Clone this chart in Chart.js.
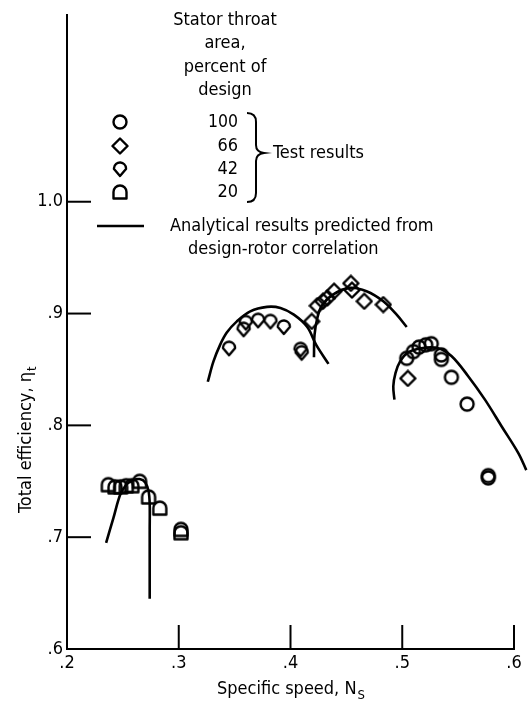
<!DOCTYPE html>
<html lang="en">
<head>
<meta charset="UTF-8">
<title>Total efficiency vs specific speed</title>
<script src="https://cdn.jsdelivr.net/npm/chart.js@4.4.1/dist/chart.umd.min.js"></script>
<style>
  html, body { margin: 0; padding: 0; background: #fff; }
</style>
</head>
<body>
<canvas id="effChart" width="531" height="704"></canvas>
<script>
const xTicks = [0.2, 0.3, 0.4, 0.5, 0.6];
const yTicks = [0.6, 0.7, 0.8, 0.9, 1.0];
const areaPercent = ['100', '66', '42', '20'];

// test results (stator throat area, percent of design)
const test100X = [0.504, 0.510, 0.515, 0.521, 0.526, 0.535, 0.535, 0.544, 0.558, 0.577, 0.577];
const test100Y = [0.860, 0.866, 0.870, 0.872, 0.873, 0.863, 0.859, 0.843, 0.819, 0.755, 0.753];
const test66X = [0.419, 0.424, 0.429, 0.433, 0.439, 0.454, 0.455, 0.466, 0.483, 0.505];
const test66Y = [0.893, 0.907, 0.911, 0.914, 0.920, 0.927, 0.921, 0.911, 0.908, 0.842];
const test42X = [0.345, 0.358, 0.360, 0.371, 0.382, 0.394, 0.409, 0.410];
const test42Y = [0.869, 0.886, 0.892, 0.894, 0.893, 0.888, 0.868, 0.865];
const test20X = [0.237, 0.243, 0.248, 0.253, 0.258, 0.265, 0.273, 0.283, 0.302, 0.302];
const test20Y = [0.747, 0.745, 0.745, 0.746, 0.746, 0.750, 0.736, 0.726, 0.707, 0.704];

// analytical results predicted from design-rotor correlation
const curve100X = [0.493, 0.492, 0.494, 0.498, 0.505, 0.517, 0.532, 0.544, 0.559, 0.574, 0.589, 0.604, 0.611];
const curve100Y = [0.823, 0.835, 0.847, 0.857, 0.865, 0.869, 0.869, 0.862, 0.844, 0.823, 0.799, 0.775, 0.760];
const curve66X = [0.421, 0.4215, 0.424, 0.428, 0.438, 0.453, 0.468, 0.483, 0.495, 0.504];
const curve66Y = [0.861, 0.881, 0.896, 0.907, 0.917, 0.923, 0.920, 0.911, 0.899, 0.888];
const curve42X = [0.326, 0.331, 0.337, 0.343, 0.352, 0.364, 0.379, 0.391, 0.403, 0.415, 0.423, 0.434];
const curve42Y = [0.839, 0.857, 0.872, 0.883, 0.893, 0.902, 0.906, 0.905, 0.899, 0.888, 0.872, 0.855];
const curve20X = [0.235, 0.2415, 0.248, 0.254, 0.259, 0.265, 0.270, 0.273, 0.274, 0.274, 0.274];
const curve20Y = [0.695, 0.717, 0.739, 0.748, 0.751, 0.752, 0.749, 0.741, 0.729, 0.707, 0.645];

const FONT = '"DejaVu Sans Condensed", "DejaVu Sans", sans-serif';

function pts(xs, ys) {
  return xs.map((x, i) => ({ x: x, y: ys[i] }));
}

// hollow marker shapes, drawn once on small canvases
function makeMarker(kind) {
  const c = document.createElement('canvas');
  c.width = 18; c.height = 18;
  const g = c.getContext('2d');
  g.strokeStyle = '#000';
  g.lineWidth = 2.4;
  g.lineJoin = 'round';
  g.beginPath();
  if (kind === 'circle') {
    g.arc(9, 9, 6.5, 0, Math.PI * 2);
  } else if (kind === 'diamond') {
    g.moveTo(9, 1.5); g.lineTo(16.5, 9); g.lineTo(9, 16.5); g.lineTo(1.5, 9); g.closePath();
  } else if (kind === 'shield') {
    g.moveTo(9, 16);
    g.lineTo(3, 9);
    g.arc(9, 8.5, 6, Math.PI + 0.08, Math.PI * 2 - 0.08);
    g.lineTo(15, 9);
    g.closePath();
  } else {
    g.moveTo(2.5, 15.5);
    g.lineTo(2.5, 9);
    g.arc(9, 9, 6.5, Math.PI, Math.PI * 2);
    g.lineTo(15.5, 15.5);
    g.closePath();
  }
  g.stroke();
  return c;
}
const markers = [makeMarker('circle'), makeMarker('diamond'), makeMarker('shield'), makeMarker('dome')];

function testSet(label, xs, ys, img) {
  return { label: label, data: pts(xs, ys), pointStyle: img, pointRadius: 7, showLine: false, clip: false };
}
function curveSet(label, xs, ys) {
  return {
    label: label, data: pts(xs, ys), showLine: true, pointRadius: 0, borderColor: '#000',
    borderWidth: 2.6, tension: 0.35, fill: false, clip: false
  };
}

const innerTicks = {
  id: 'innerTicks',
  afterDraw(chart) {
    const { ctx, chartArea: a, scales: { x, y } } = chart;
    ctx.save();
    ctx.strokeStyle = '#000';
    ctx.lineWidth = 2;
    xTicks.forEach(v => {
      const px = x.getPixelForValue(v);
      ctx.beginPath(); ctx.moveTo(px, a.bottom); ctx.lineTo(px, a.bottom - 24); ctx.stroke();
    });
    yTicks.forEach(v => {
      const py = y.getPixelForValue(v);
      ctx.beginPath(); ctx.moveTo(a.left, py); ctx.lineTo(a.left + 24, py); ctx.stroke();
    });
    ctx.restore();
  }
};

// text with a subscript placed right after the main part
function subText(ctx, main, sub, x, y, maxW) {
  ctx.font = '18px ' + FONT;
  const w = Math.min(ctx.measureText(main).width, maxW);
  ctx.fillText(main, x, y, maxW);
  ctx.font = '13px ' + FONT;
  ctx.fillText(sub, x + w + 1, y + 5);
}

const axisTitles = {
  id: 'axisTitles',
  afterDraw(chart) {
    const ctx = chart.ctx;
    ctx.save();
    ctx.fillStyle = '#000';
    ctx.textBaseline = 'alphabetic';
    ctx.textAlign = 'left';
    subText(ctx, 'Specific speed, N', 'S', 217, 694, 143);
    ctx.translate(31, 513);
    ctx.rotate(-Math.PI / 2);
    subText(ctx, 'Total efficiency, \u03b7', 't', 0, 0, 151);
    ctx.restore();
  }
};

const areaLegend = {
  id: 'areaLegend',
  afterDraw(chart) {
    const ctx = chart.ctx;
    ctx.save();
    ctx.fillStyle = '#000';
    ctx.strokeStyle = '#000';
    ctx.textBaseline = 'middle';
    ctx.font = '18px ' + FONT;
    ctx.textAlign = 'center';
    const head = ['Stator throat', 'area,', 'percent of', 'design'];
    const headY = [20, 43, 67, 90];
    head.forEach((t, i) => ctx.fillText(t, 225, headY[i], 104));
    const rowY = [122, 146, 169, 192];
    ctx.textAlign = 'right';
    areaPercent.forEach((t, i) => {
      ctx.drawImage(markers[i], 120 - 9, rowY[i] - 9);
      ctx.fillText(t, 238, rowY[i], 30);
    });
    // brace
    ctx.lineWidth = 2;
    ctx.beginPath();
    ctx.moveTo(247, 113);
    ctx.quadraticCurveTo(256, 113, 256, 122);
    ctx.lineTo(256, 145);
    ctx.quadraticCurveTo(256, 152, 264, 153);
    ctx.quadraticCurveTo(256, 154, 256, 161);
    ctx.lineTo(256, 193);
    ctx.quadraticCurveTo(256, 202, 247, 202);
    ctx.stroke();
    ctx.textAlign = 'left';
    ctx.fillText('Test results', 273, 153, 98);
    ctx.lineWidth = 2.6;
    ctx.beginPath(); ctx.moveTo(97, 226); ctx.lineTo(144, 226); ctx.stroke();
    ctx.fillText('Analytical results predicted from', 170, 226, 270);
    ctx.fillText('design-rotor correlation', 188, 249, 205);
    ctx.restore();
  }
};

const tickFmt = v => (Math.abs(v - 1) < 1e-6 ? '1.0' : '.' + Math.round(v * 10));

new Chart(document.getElementById('effChart'), {
  type: 'scatter',
  data: {
    datasets: [
      curveSet('100 analytical', curve100X, curve100Y),
      curveSet('66 analytical', curve66X, curve66Y),
      curveSet('42 analytical', curve42X, curve42Y),
      curveSet('20 analytical', curve20X, curve20Y),
      testSet('100', test100X, test100Y, markers[0]),
      testSet('66', test66X, test66Y, markers[1]),
      testSet('42', test42X, test42Y, markers[2]),
      testSet('20', test20X, test20Y, markers[3])
    ]
  },
  options: {
    responsive: false,
    animation: false,
    layout: { padding: { left: 0, right: 17, top: 15, bottom: 0 } },
    plugins: { legend: { display: false }, tooltip: { enabled: false } },
    scales: {
      x: {
        type: 'linear', min: 0.2, max: 0.6,
        afterFit: s => { s.height = 55; },
        afterBuildTicks: s => { s.ticks = xTicks.map(v => ({ value: v })); },
        grid: { display: false, drawTicks: false },
        border: { display: true, color: '#000', width: 2 },
        ticks: { callback: tickFmt, color: '#000', font: { family: FONT, size: 18 }, padding: 4, maxRotation: 0 }
      },
      y: {
        type: 'linear', min: 0.6, max: 1.167,
        afterFit: s => { s.width = 67; },
        afterBuildTicks: s => { s.ticks = yTicks.map(v => ({ value: v })); },
        grid: { display: false, drawTicks: false },
        border: { display: true, color: '#000', width: 2 },
        ticks: { callback: tickFmt, color: '#000', font: { family: FONT, size: 18 }, padding: 4 }
      }
    }
  },
  plugins: [innerTicks, axisTitles, areaLegend]
});
</script>
</body>
</html>
